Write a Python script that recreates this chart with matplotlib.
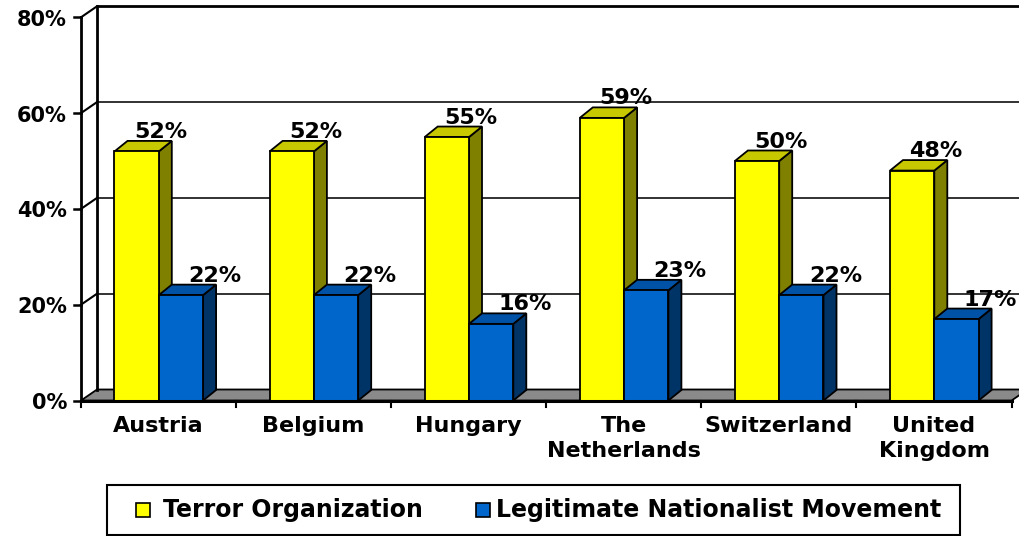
import matplotlib
matplotlib.use("Agg")
import matplotlib.pyplot as plt
from matplotlib.patches import Polygon, Rectangle

categories = ["Austria", "Belgium", "Hungary", "The\nNetherlands", "Switzerland", "United\nKingdom"]
terror = [52, 52, 55, 59, 50, 48]
legit = [22, 22, 16, 23, 22, 17]
series_names = ["Terror Organization", "Legitimate Nationalist Movement"]
yticks = [0, 20, 40, 60, 80]

W, H = 1020, 536
fig = plt.figure(figsize=(W / 100, H / 100), dpi=100)
ax = fig.add_axes([0, 0, 1, 1])
ax.set_axis_off()

# pixel calibration
X0, CW = 81.0, 155.1       # front axis pixel x, category width px
Y0, PY = 400.5, 4.79       # 0% pixel y, px per percent
ax.set_xlim(-X0 / CW, (W - X0) / CW)
ax.set_ylim(-(H - Y0) / PY, Y0 / PY)

def px(dx):
    return dx / CW

def py(dy):
    return dy / PY

WDX, WDY = px(16), py(11)       # wall depth
BDX, BDY = px(13), py(10.5)     # bar depth
n = len(categories)
xend = n

# floor
ax.add_patch(Polygon([(0, 0), (xend, 0), (xend + WDX, WDY), (WDX, WDY)],
                     closed=True, facecolor="#8a8a8a", edgecolor="black", lw=1.3, zorder=1))

# back wall gridlines and side wall lines
for v in yticks[1:]:
    lw = 2.0 if v == yticks[-1] else 1.3
    col = "black" if v == yticks[-1] else "#222222"
    ax.plot([WDX, xend + WDX], [v + WDY, v + WDY], color=col, lw=lw, zorder=1, solid_capstyle="butt")
    ax.plot([0, WDX], [v, v + WDY], color="black", lw=1.5, zorder=1)
# back wall left edge
ax.plot([WDX, WDX], [WDY, yticks[-1] + WDY], color="black", lw=2.0, zorder=1)
# front y axis
ax.plot([0, 0], [0, yticks[-1]], color="black", lw=2.0, zorder=5)
for v in yticks:
    ax.plot([px(-6.5), 0], [v, v], color="black", lw=1.8, zorder=5)
    ax.text(px(-14), v - py(8.5), f"{v}%", ha="right", va="baseline",
            fontsize=15, fontweight="bold", family="DejaVu Sans")
# front x axis
ax.plot([0, xend], [0, 0], color="black", lw=2.2, zorder=5)
for i in range(n + 1):
    ax.plot([i, i], [0, py(-6)], color="black", lw=1.5, zorder=5)

# bars
styles = [
    dict(front="#ffff00", top="#c8c800", side="#808000", lab=24),
    dict(front="#0066cc", top="#0052a6", side="#003366", lab=34),
]
bw = px(44.3)
start = px(33.5)
for i in range(n):
    for s, vals in enumerate([terror, legit]):
        v = vals[i]
        st = styles[s]
        x0 = i + start + s * bw
        x1 = x0 + bw
        z = 3 + i * 0.1 + s * 0.05
        ax.add_patch(Polygon([(x1, 0), (x1 + BDX, BDY), (x1 + BDX, v + BDY), (x1, v)],
                             closed=True, facecolor=st["side"], edgecolor="black", lw=1.3, zorder=z))
        ax.add_patch(Polygon([(x0, v), (x1, v), (x1 + BDX, v + BDY), (x0 + BDX, v + BDY)],
                             closed=True, facecolor=st["top"], edgecolor="black", lw=1.3, zorder=z))
        ax.add_patch(Rectangle((x0, 0), bw, v, facecolor=st["front"], edgecolor="black",
                               lw=1.3, zorder=z + 0.01))
        ax.text((x0 + x1) / 2 + px(st["lab"]), v + BDY + py(3), f"{v}%",
                ha="center", va="baseline", fontsize=16, fontweight="bold",
                family="DejaVu Sans", zorder=10)

# category labels
for i, c in enumerate(categories):
    ax.text(i + 0.5, py(-15.5), c, ha="center", va="top", fontsize=16,
            fontweight="bold", family="DejaVu Sans", linespacing=1.33)

# legend (drawn in figure pixel space)
def fx(p):
    return p / W

def fy(p):
    return 1 - p / H

fig.patches.append(Rectangle((fx(107), fy(535)), fx(960) - fx(107), fy(485) - fy(535),
                             transform=fig.transFigure, facecolor="white",
                             edgecolor="black", lw=1.5, zorder=20))
leg_sq_x = [136, 476]
leg_tx_x = [163, 496]
for k, name in enumerate(series_names):
    fig.patches.append(Rectangle((fx(leg_sq_x[k]), fy(517)), fx(14), 14 / H,
                                 transform=fig.transFigure, facecolor=styles[k]["front"],
                                 edgecolor="black", lw=1.2, zorder=21))
    fig.text(fx(leg_tx_x[k]), fy(517), name, ha="left", va="baseline", fontsize=17,
             fontweight="bold", family="DejaVu Sans", zorder=22)

fig.savefig("out.png", dpi=100)
